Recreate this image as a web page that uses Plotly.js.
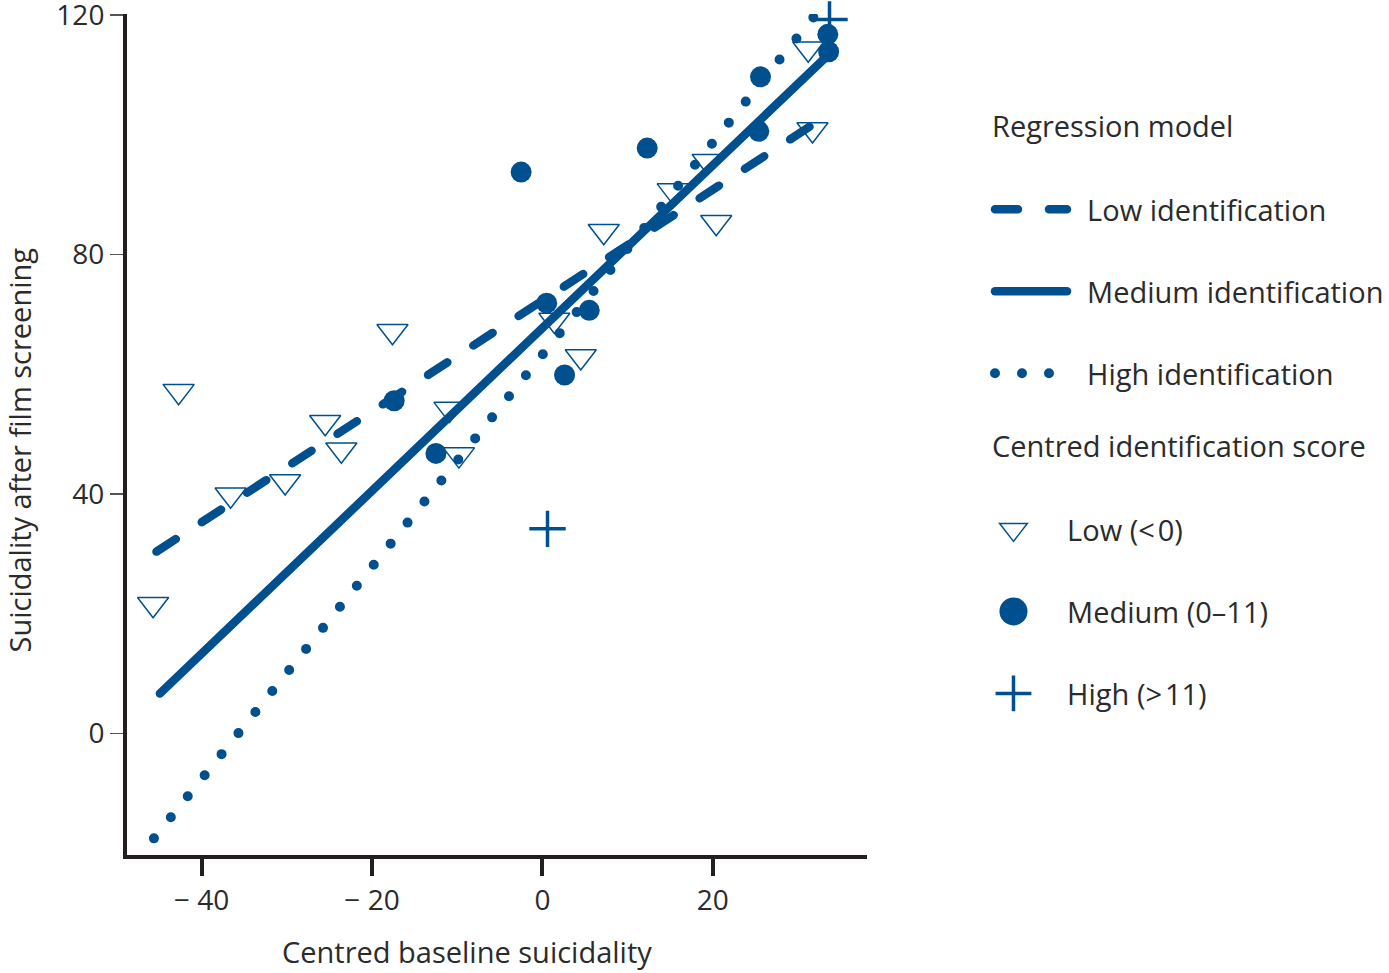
<!DOCTYPE html>
<html>
<head>
<meta charset="utf-8">
<script src="https://cdn.plot.ly/plotly-3.0.1.min.js"></script>
<style>
  html, body { margin: 0; padding: 0; background: #fff; }
  #chart { width: 1389px; height: 973px; }
</style>
</head>
<body>
<div id="chart"></div>
<script>
// observed points, by centred identification score
var lowScoreX = [-45.7, -42.7, -36.6, -30.2, -25.5, -23.6, -17.6, -10.9, -9.8, 1.4, 4.5, 7.2, 15.3, 19.4, 20.4, 31.2, 31.7];
var lowScoreY = [21.6, 57.2, 39.9, 42.1, 52.0, 47.4, 67.2, 54.2, 46.6, 69.1, 63.0, 83.9, 90.7, 95.6, 85.4, 114.4, 100.9];

var medScoreX = [-17.4, -12.5, -2.5, 12.3, 0.5, 5.5, 2.6, 25.6, 25.4, 33.5, 33.6];
var medScoreY = [55.6, 46.8, 93.8, 97.8, 71.9, 70.7, 59.9, 109.7, 100.6, 116.8, 113.9];

var highScoreX = [0.6, 33.7];
var highScoreY = [34.2, 119.3];

// regression lines (end points)
var lowLineX = [-45.3, 32.9];
var lowLineY = [30.4, 102.8];
var medLineX = [-44.9, 33.5];
var medLineY = [6.7, 113.3];
var highLineX = [-45.6, 32.8];
var highLineY = [-17.5, 121.4];

var xTickVals = [-40, -20, 0, 20];
var xTickText = ['\u2212 40', '\u2212 20', '0', '20'];
var yTickVals = [0, 40, 80, 120];
var yTickText = ['0', '40', '80', '120'];

var blue = '#00508f';
var ink = '#2b2b2b';
var fam = '"Open Sans", "Noto Sans", sans-serif';

var lowLine = {
    x: lowLineX, y: lowLineY, type: 'scatter', mode: 'lines',
    name: '\u00a0\u00a0Low identification', legend: 'legend', legendgroup: 'a',
    line: { color: blue, width: 8.5, dash: '23px,31px' }
};
var medLine = {
    x: medLineX, y: medLineY, type: 'scatter', mode: 'lines',
    name: '\u00a0\u00a0Medium identification', legend: 'legend', legendgroup: 'b',
    line: { color: blue, width: 8.5 }
};
var highLine = {
    x: highLineX, y: highLineY, type: 'scatter', mode: 'lines',
    name: '\u00a0\u00a0High identification', legend: 'legend', legendgroup: 'c',
    line: { color: blue, width: 10, dash: '0px,27px' }
};

var lowPts = {
    x: lowScoreX, y: lowScoreY, type: 'scatter', mode: 'markers', cliponaxis: false,
    name: '\u00a0\u00a0\u00a0\u00a0Low (<\u200a0)', legend: 'legend2', legendgroup: 'd',
    marker: { symbol: 'triangle-down-open', size: 27, color: blue, line: { color: blue, width: 1.5 } }
};
var medPts = {
    x: medScoreX, y: medScoreY, type: 'scatter', mode: 'markers', cliponaxis: false,
    name: '\u00a0\u00a0\u00a0\u00a0Medium (0\u201311)', legend: 'legend2', legendgroup: 'e',
    marker: { symbol: 'circle', size: 21, color: blue }
};
var highPts = {
    x: highScoreX, y: highScoreY, type: 'scatter', mode: 'markers', cliponaxis: false,
    name: '\u00a0\u00a0\u00a0\u00a0High (>\u200a11)', legend: 'legend2', legendgroup: 'f',
    marker: { symbol: 'cross-thin-open', size: 26, color: blue, line: { color: blue, width: 3.5 } }
};

var legendFont = { family: fam, size: 29, color: ink };

var layout = {
    width: 1389,
    height: 973,
    paper_bgcolor: '#fff',
    plot_bgcolor: '#fff',
    margin: { l: 127, r: 522, t: 14, b: 118, autoexpand: false },
    font: { family: fam, color: ink },
    showlegend: true,
    xaxis: {
        range: [-48.76, 38.1],
        tickvals: xTickVals, ticktext: xTickText,
        showgrid: false, zeroline: false,
        showline: true, linecolor: '#231f20', linewidth: 4,
        ticks: 'outside', ticklen: 17, tickwidth: 4, tickcolor: '#231f20',
        ticklabeloverflow: 'allow', automargin: false,
        tickfont: { family: fam, size: 28, color: ink }
    },
    yaxis: {
        range: [-20.28, 120.2],
        tickvals: yTickVals, ticktext: yTickText,
        showgrid: false, zeroline: false,
        showline: true, linecolor: '#231f20', linewidth: 4,
        ticks: 'outside', ticklen: 13, tickwidth: 1.5, tickcolor: '#555',
        ticklabeloverflow: 'allow', automargin: false,
        tickfont: { family: fam, size: 28, color: ink }
    },
    legend: {
        x: 1.1662, y: 0.9086, xanchor: 'left', yanchor: 'top',
        bgcolor: 'rgba(0,0,0,0)', borderwidth: 0,
        itemwidth: 72, tracegroupgap: 41.3, itemsizing: 'trace',
        font: legendFont,
        title: {
            text: '<span style="font-size:29px">Regression model</span><br>\u00a0',
            side: 'top',
            font: { family: fam, size: 35.8, color: ink }
        }
    },
    legend2: {
        x: 1.1662, y: 0.5280, xanchor: 'left', yanchor: 'top',
        bgcolor: 'rgba(0,0,0,0)', borderwidth: 0,
        itemwidth: 37, tracegroupgap: 41.3, itemsizing: 'trace',
        font: legendFont,
        title: {
            text: '<span style="font-size:29px">Centred identification score</span><br>\u00a0',
            side: 'top',
            font: { family: fam, size: 35.8, color: ink }
        }
    },
    annotations: [
        {
            text: 'Centred baseline suicidality', xref: 'paper', yref: 'paper',
            x: 0.4588, y: -0.1150, xanchor: 'center', yanchor: 'middle', showarrow: false,
            font: { family: fam, size: 29, color: ink }
        },
        {
            text: 'Suicidality after film screening', xref: 'paper', yref: 'paper',
            x: -0.1459, y: 0.4810, xanchor: 'center', yanchor: 'middle', showarrow: false,
            textangle: -90,
            font: { family: fam, size: 29, color: ink }
        }
    ]
};

Plotly.newPlot('chart', [lowLine, medLine, highLine, lowPts, medPts, highPts], layout, { staticPlot: true })
    .then(function (gd) {
        // round ends for dashes and dots
        gd.querySelectorAll('path.js-line').forEach(function (p) {
            p.style.strokeLinecap = 'round';
        });
        // legend symbols drawn larger, as in the printed figure
        var scales = [1.5, 1.75, 1.6];
        gd.querySelectorAll('g.traces path.scatterpts').forEach(function (p, i) {
            var t = p.getAttribute('transform') || '';
            p.setAttribute('transform', t + ' scale(' + (scales[i] || 1.6) + ')');
            p.style.vectorEffect = 'non-scaling-stroke';
        });
    });
</script>
</body>
</html>
